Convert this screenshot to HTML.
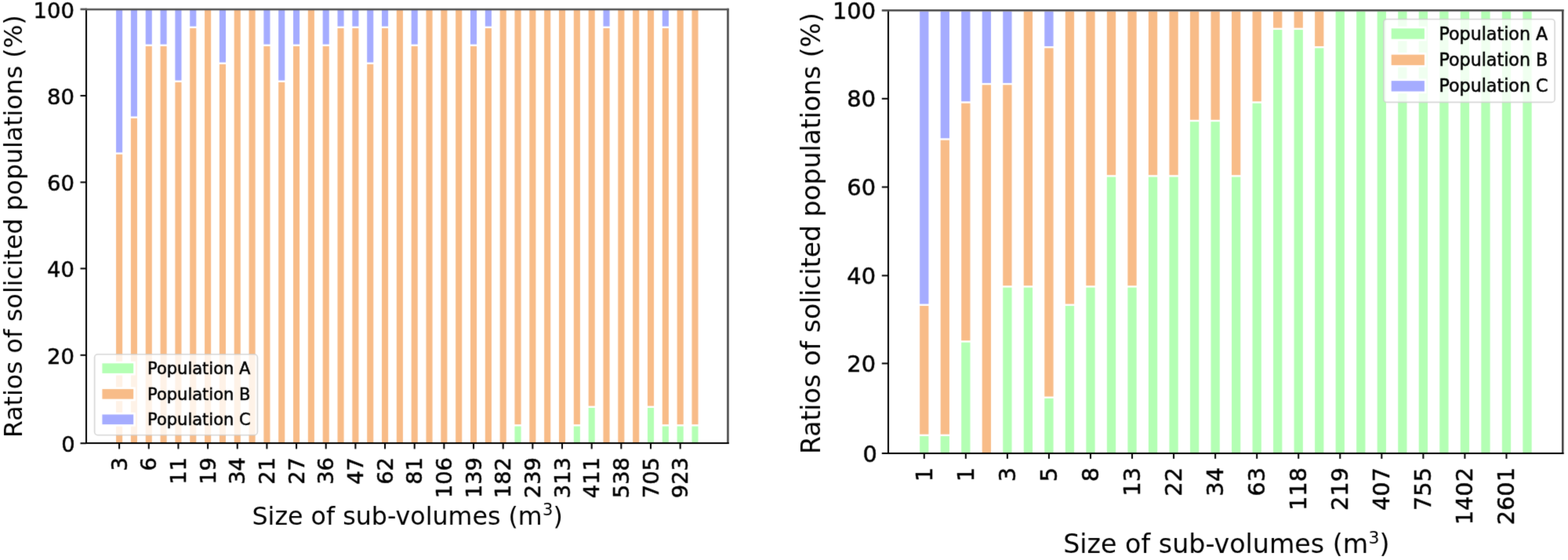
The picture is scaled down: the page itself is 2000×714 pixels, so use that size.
<!DOCTYPE html>
<html><head><meta charset="utf-8"><title>Ratios of solicited populations</title>
<style>html,body{margin:0;padding:0;background:#fff;} svg{display:block;} text{font-family:'DejaVu Sans', 'Liberation Sans', sans-serif;fill:#000;stroke:#000;stroke-width:0.5px;}</style>
</head><body>
<svg width="2000" height="714" viewBox="0 0 2000 714">
<defs><filter id="soft" x="0" y="0" width="2000" height="714" filterUnits="userSpaceOnUse" color-interpolation-filters="sRGB"><feConvolveMatrix order="3" kernelMatrix="0.01134 0.08382 0.01134 0.08382 0.61935 0.08382 0.01134 0.08382 0.01134" edgeMode="duplicate"/></filter></defs>
<rect width="2000" height="714" fill="#fff"/>
<g filter="url(#soft)">
<rect width="2000" height="714" fill="#fff"/>
<rect x="148.05" y="196.80" width="8.10" height="367.90" fill="#f8bc88"/>
<rect x="148.05" y="13.00" width="8.10" height="181.40" fill="#a5acff"/>
<rect x="166.88" y="150.84" width="8.10" height="413.86" fill="#f8bc88"/>
<rect x="166.88" y="13.00" width="8.10" height="135.44" fill="#a5acff"/>
<rect x="185.71" y="58.92" width="8.10" height="505.78" fill="#f8bc88"/>
<rect x="185.71" y="13.00" width="8.10" height="43.52" fill="#a5acff"/>
<rect x="204.54" y="58.92" width="8.10" height="505.78" fill="#f8bc88"/>
<rect x="204.54" y="13.00" width="8.10" height="43.52" fill="#a5acff"/>
<rect x="223.37" y="104.89" width="8.10" height="459.81" fill="#f8bc88"/>
<rect x="223.37" y="13.00" width="8.10" height="89.49" fill="#a5acff"/>
<rect x="242.20" y="35.99" width="8.10" height="528.71" fill="#f8bc88"/>
<rect x="242.20" y="13.00" width="8.10" height="20.59" fill="#a5acff"/>
<rect x="261.04" y="13.00" width="8.10" height="551.70" fill="#f8bc88"/>
<rect x="279.87" y="81.91" width="8.10" height="482.79" fill="#f8bc88"/>
<rect x="279.87" y="13.00" width="8.10" height="66.51" fill="#a5acff"/>
<rect x="298.70" y="13.00" width="8.10" height="551.70" fill="#f8bc88"/>
<rect x="317.53" y="13.00" width="8.10" height="551.70" fill="#f8bc88"/>
<rect x="336.36" y="58.92" width="8.10" height="505.78" fill="#f8bc88"/>
<rect x="336.36" y="13.00" width="8.10" height="43.52" fill="#a5acff"/>
<rect x="355.19" y="104.89" width="8.10" height="459.81" fill="#f8bc88"/>
<rect x="355.19" y="13.00" width="8.10" height="89.49" fill="#a5acff"/>
<rect x="374.02" y="58.92" width="8.10" height="505.78" fill="#f8bc88"/>
<rect x="374.02" y="13.00" width="8.10" height="43.52" fill="#a5acff"/>
<rect x="392.85" y="13.00" width="8.10" height="551.70" fill="#f8bc88"/>
<rect x="411.68" y="58.92" width="8.10" height="505.78" fill="#f8bc88"/>
<rect x="411.68" y="13.00" width="8.10" height="43.52" fill="#a5acff"/>
<rect x="430.51" y="35.99" width="8.10" height="528.71" fill="#f8bc88"/>
<rect x="430.51" y="13.00" width="8.10" height="20.59" fill="#a5acff"/>
<rect x="449.35" y="35.99" width="8.10" height="528.71" fill="#f8bc88"/>
<rect x="449.35" y="13.00" width="8.10" height="20.59" fill="#a5acff"/>
<rect x="468.18" y="81.91" width="8.10" height="482.79" fill="#f8bc88"/>
<rect x="468.18" y="13.00" width="8.10" height="66.51" fill="#a5acff"/>
<rect x="487.01" y="35.99" width="8.10" height="528.71" fill="#f8bc88"/>
<rect x="487.01" y="13.00" width="8.10" height="20.59" fill="#a5acff"/>
<rect x="505.84" y="13.00" width="8.10" height="551.70" fill="#f8bc88"/>
<rect x="524.67" y="58.92" width="8.10" height="505.78" fill="#f8bc88"/>
<rect x="524.67" y="13.00" width="8.10" height="43.52" fill="#a5acff"/>
<rect x="543.50" y="13.00" width="8.10" height="551.70" fill="#f8bc88"/>
<rect x="562.33" y="13.00" width="8.10" height="551.70" fill="#f8bc88"/>
<rect x="581.16" y="13.00" width="8.10" height="551.70" fill="#f8bc88"/>
<rect x="599.99" y="58.92" width="8.10" height="505.78" fill="#f8bc88"/>
<rect x="599.99" y="13.00" width="8.10" height="43.52" fill="#a5acff"/>
<rect x="618.83" y="35.99" width="8.10" height="528.71" fill="#f8bc88"/>
<rect x="618.83" y="13.00" width="8.10" height="20.59" fill="#a5acff"/>
<rect x="637.66" y="13.00" width="8.10" height="551.70" fill="#f8bc88"/>
<rect x="656.49" y="543.52" width="8.10" height="21.18" fill="#b4ffb4"/>
<rect x="656.49" y="13.00" width="8.10" height="528.12" fill="#f8bc88"/>
<rect x="675.32" y="13.00" width="8.10" height="551.70" fill="#f8bc88"/>
<rect x="694.15" y="13.00" width="8.10" height="551.70" fill="#f8bc88"/>
<rect x="712.98" y="13.00" width="8.10" height="551.70" fill="#f8bc88"/>
<rect x="731.81" y="543.52" width="8.10" height="21.18" fill="#b4ffb4"/>
<rect x="731.81" y="13.00" width="8.10" height="528.12" fill="#f8bc88"/>
<rect x="750.64" y="519.99" width="8.10" height="44.71" fill="#b4ffb4"/>
<rect x="750.64" y="13.00" width="8.10" height="504.59" fill="#f8bc88"/>
<rect x="769.47" y="35.99" width="8.10" height="528.71" fill="#f8bc88"/>
<rect x="769.47" y="13.00" width="8.10" height="20.59" fill="#a5acff"/>
<rect x="788.30" y="13.00" width="8.10" height="551.70" fill="#f8bc88"/>
<rect x="807.14" y="13.00" width="8.10" height="551.70" fill="#f8bc88"/>
<rect x="825.97" y="519.99" width="8.10" height="44.71" fill="#b4ffb4"/>
<rect x="825.97" y="13.00" width="8.10" height="504.59" fill="#f8bc88"/>
<rect x="844.80" y="543.52" width="8.10" height="21.18" fill="#b4ffb4"/>
<rect x="844.80" y="35.99" width="8.10" height="505.13" fill="#f8bc88"/>
<rect x="844.80" y="13.00" width="8.10" height="20.59" fill="#a5acff"/>
<rect x="863.63" y="543.52" width="8.10" height="21.18" fill="#b4ffb4"/>
<rect x="863.63" y="13.00" width="8.10" height="528.12" fill="#f8bc88"/>
<rect x="882.46" y="543.52" width="8.10" height="21.18" fill="#b4ffb4"/>
<rect x="882.46" y="13.00" width="8.10" height="528.12" fill="#f8bc88"/>
<rect x="120.60" y="451.80" width="207.80" height="102.90" rx="4" ry="4" fill="#fff" fill-opacity="0.8" stroke="#cccccc" stroke-opacity="0.8" stroke-width="1.6"/>
<rect x="127.80" y="460.70" width="45.00" height="17.80" fill="#fff"/>
<rect x="130.40" y="463.30" width="39.80" height="12.60" fill="#b4ffb4"/>
<text x="188.00" y="477.27" font-size="21.0">Population A</text>
<rect x="127.80" y="493.50" width="45.00" height="17.80" fill="#fff"/>
<rect x="130.40" y="496.10" width="39.80" height="12.60" fill="#f8bc88"/>
<text x="188.00" y="510.06" font-size="21.0">Population B</text>
<rect x="127.80" y="525.90" width="45.00" height="17.80" fill="#fff"/>
<rect x="130.40" y="528.50" width="39.80" height="12.60" fill="#a5acff"/>
<text x="188.00" y="542.46" font-size="21.0">Population C</text>
<line x1="110.0" y1="10.7" x2="110.0" y2="566.0" stroke="#000" stroke-width="2.0"/>
<line x1="928.45" y1="10.7" x2="928.45" y2="566.0" stroke="#4a4a4a" stroke-width="2.6"/>
<line x1="109.0" y1="565.0" x2="929.75" y2="565.0" stroke="#000" stroke-width="2.0"/>
<line x1="109.0" y1="12.0" x2="929.75" y2="12.0" stroke="#555555" stroke-width="2.6"/>
<line x1="102.50" y1="565.20" x2="109.70" y2="565.20" stroke="#000" stroke-width="2.0"/>
<text x="95.80" y="575.90" font-size="27.4" text-anchor="end">0</text>
<line x1="102.50" y1="452.80" x2="109.70" y2="452.80" stroke="#000" stroke-width="2.0"/>
<text x="94.90" y="463.50" font-size="27.4" text-anchor="end">20</text>
<line x1="102.50" y1="342.40" x2="109.70" y2="342.40" stroke="#000" stroke-width="2.0"/>
<text x="94.90" y="353.10" font-size="27.4" text-anchor="end">40</text>
<line x1="102.50" y1="232.40" x2="109.70" y2="232.40" stroke="#000" stroke-width="2.0"/>
<text x="94.90" y="243.10" font-size="27.4" text-anchor="end">60</text>
<line x1="102.50" y1="122.05" x2="109.70" y2="122.05" stroke="#000" stroke-width="2.0"/>
<text x="94.90" y="132.75" font-size="27.4" text-anchor="end">80</text>
<line x1="102.50" y1="11.80" x2="109.70" y2="11.80" stroke="#555555" stroke-width="2.6"/>
<text x="94.90" y="22.50" font-size="27.4" text-anchor="end">100</text>
<line x1="152.10" y1="565.20" x2="152.10" y2="572.40" stroke="#000" stroke-width="2.0"/>
<text transform="translate(161.70 583.00) rotate(-90)" font-size="27.4" text-anchor="end">3</text>
<line x1="189.76" y1="565.20" x2="189.76" y2="572.40" stroke="#000" stroke-width="2.0"/>
<text transform="translate(199.36 583.00) rotate(-90)" font-size="27.4" text-anchor="end">6</text>
<line x1="227.42" y1="565.20" x2="227.42" y2="572.40" stroke="#000" stroke-width="2.0"/>
<text transform="translate(237.02 583.00) rotate(-90)" font-size="27.4" text-anchor="end">11</text>
<line x1="265.09" y1="565.20" x2="265.09" y2="572.40" stroke="#000" stroke-width="2.0"/>
<text transform="translate(274.69 583.00) rotate(-90)" font-size="27.4" text-anchor="end">19</text>
<line x1="302.75" y1="565.20" x2="302.75" y2="572.40" stroke="#000" stroke-width="2.0"/>
<text transform="translate(312.35 583.00) rotate(-90)" font-size="27.4" text-anchor="end">34</text>
<line x1="340.41" y1="565.20" x2="340.41" y2="572.40" stroke="#000" stroke-width="2.0"/>
<text transform="translate(350.01 583.00) rotate(-90)" font-size="27.4" text-anchor="end">21</text>
<line x1="378.07" y1="565.20" x2="378.07" y2="572.40" stroke="#000" stroke-width="2.0"/>
<text transform="translate(387.67 583.00) rotate(-90)" font-size="27.4" text-anchor="end">27</text>
<line x1="415.73" y1="565.20" x2="415.73" y2="572.40" stroke="#000" stroke-width="2.0"/>
<text transform="translate(425.33 583.00) rotate(-90)" font-size="27.4" text-anchor="end">36</text>
<line x1="453.40" y1="565.20" x2="453.40" y2="572.40" stroke="#000" stroke-width="2.0"/>
<text transform="translate(463.00 583.00) rotate(-90)" font-size="27.4" text-anchor="end">47</text>
<line x1="491.06" y1="565.20" x2="491.06" y2="572.40" stroke="#000" stroke-width="2.0"/>
<text transform="translate(500.66 583.00) rotate(-90)" font-size="27.4" text-anchor="end">62</text>
<line x1="528.72" y1="565.20" x2="528.72" y2="572.40" stroke="#000" stroke-width="2.0"/>
<text transform="translate(538.32 583.00) rotate(-90)" font-size="27.4" text-anchor="end">81</text>
<line x1="566.38" y1="565.20" x2="566.38" y2="572.40" stroke="#000" stroke-width="2.0"/>
<text transform="translate(575.98 583.00) rotate(-90)" font-size="27.4" text-anchor="end">106</text>
<line x1="604.04" y1="565.20" x2="604.04" y2="572.40" stroke="#000" stroke-width="2.0"/>
<text transform="translate(613.64 583.00) rotate(-90)" font-size="27.4" text-anchor="end">139</text>
<line x1="641.71" y1="565.20" x2="641.71" y2="572.40" stroke="#000" stroke-width="2.0"/>
<text transform="translate(651.31 583.00) rotate(-90)" font-size="27.4" text-anchor="end">182</text>
<line x1="679.37" y1="565.20" x2="679.37" y2="572.40" stroke="#000" stroke-width="2.0"/>
<text transform="translate(688.97 583.00) rotate(-90)" font-size="27.4" text-anchor="end">239</text>
<line x1="717.03" y1="565.20" x2="717.03" y2="572.40" stroke="#000" stroke-width="2.0"/>
<text transform="translate(726.63 583.00) rotate(-90)" font-size="27.4" text-anchor="end">313</text>
<line x1="754.69" y1="565.20" x2="754.69" y2="572.40" stroke="#000" stroke-width="2.0"/>
<text transform="translate(764.29 583.00) rotate(-90)" font-size="27.4" text-anchor="end">411</text>
<line x1="792.35" y1="565.20" x2="792.35" y2="572.40" stroke="#000" stroke-width="2.0"/>
<text transform="translate(801.95 583.00) rotate(-90)" font-size="27.4" text-anchor="end">538</text>
<line x1="830.02" y1="565.20" x2="830.02" y2="572.40" stroke="#000" stroke-width="2.0"/>
<text transform="translate(839.62 583.00) rotate(-90)" font-size="27.4" text-anchor="end">705</text>
<line x1="867.68" y1="565.20" x2="867.68" y2="572.40" stroke="#000" stroke-width="2.0"/>
<text transform="translate(877.28 583.00) rotate(-90)" font-size="27.4" text-anchor="end">923</text>
<text transform="translate(27.70 558.00) rotate(-90)" font-size="31.6" style="stroke:none">Ratios of solicited populations (%)</text>
<text x="321.50" y="669.00" font-size="31.7" style="stroke:none">Size of sub-volumes (m<tspan font-size="20.92" dx="0.35" dy="-11.89">3</tspan><tspan dy="11.89">)</tspan></text>
<rect x="1173.15" y="556.10" width="11.30" height="21.70" fill="#b4ffb4"/>
<rect x="1173.15" y="389.95" width="11.30" height="163.75" fill="#f8bc88"/>
<rect x="1173.15" y="14.50" width="11.30" height="373.05" fill="#a5acff"/>
<rect x="1199.67" y="556.10" width="11.30" height="21.70" fill="#b4ffb4"/>
<rect x="1199.67" y="178.67" width="11.30" height="375.02" fill="#f8bc88"/>
<rect x="1199.67" y="14.50" width="11.30" height="161.77" fill="#a5acff"/>
<rect x="1226.20" y="436.60" width="11.30" height="141.20" fill="#b4ffb4"/>
<rect x="1226.20" y="131.68" width="11.30" height="302.52" fill="#f8bc88"/>
<rect x="1226.20" y="14.50" width="11.30" height="114.78" fill="#a5acff"/>
<rect x="1252.72" y="108.27" width="11.30" height="469.53" fill="#f8bc88"/>
<rect x="1252.72" y="14.50" width="11.30" height="91.37" fill="#a5acff"/>
<rect x="1279.25" y="366.60" width="11.30" height="211.20" fill="#b4ffb4"/>
<rect x="1279.25" y="108.27" width="11.30" height="255.93" fill="#f8bc88"/>
<rect x="1279.25" y="14.50" width="11.30" height="91.37" fill="#a5acff"/>
<rect x="1305.77" y="366.60" width="11.30" height="211.20" fill="#b4ffb4"/>
<rect x="1305.77" y="14.50" width="11.30" height="349.70" fill="#f8bc88"/>
<rect x="1332.29" y="507.95" width="11.30" height="69.85" fill="#b4ffb4"/>
<rect x="1332.29" y="61.36" width="11.30" height="444.19" fill="#f8bc88"/>
<rect x="1332.29" y="14.50" width="11.30" height="44.46" fill="#a5acff"/>
<rect x="1358.82" y="389.95" width="11.30" height="187.85" fill="#b4ffb4"/>
<rect x="1358.82" y="14.50" width="11.30" height="373.05" fill="#f8bc88"/>
<rect x="1385.34" y="366.60" width="11.30" height="211.20" fill="#b4ffb4"/>
<rect x="1385.34" y="14.50" width="11.30" height="349.70" fill="#f8bc88"/>
<rect x="1411.87" y="225.61" width="11.30" height="352.19" fill="#b4ffb4"/>
<rect x="1411.87" y="14.50" width="11.30" height="208.71" fill="#f8bc88"/>
<rect x="1438.39" y="366.60" width="11.30" height="211.20" fill="#b4ffb4"/>
<rect x="1438.39" y="14.50" width="11.30" height="349.70" fill="#f8bc88"/>
<rect x="1464.91" y="225.61" width="11.30" height="352.19" fill="#b4ffb4"/>
<rect x="1464.91" y="14.50" width="11.30" height="208.71" fill="#f8bc88"/>
<rect x="1491.44" y="225.61" width="11.30" height="352.19" fill="#b4ffb4"/>
<rect x="1491.44" y="14.50" width="11.30" height="208.71" fill="#f8bc88"/>
<rect x="1517.96" y="155.17" width="11.30" height="422.62" fill="#b4ffb4"/>
<rect x="1517.96" y="14.50" width="11.30" height="138.28" fill="#f8bc88"/>
<rect x="1544.49" y="155.17" width="11.30" height="422.62" fill="#b4ffb4"/>
<rect x="1544.49" y="14.50" width="11.30" height="138.28" fill="#f8bc88"/>
<rect x="1571.01" y="225.61" width="11.30" height="352.19" fill="#b4ffb4"/>
<rect x="1571.01" y="14.50" width="11.30" height="208.71" fill="#f8bc88"/>
<rect x="1597.53" y="131.68" width="11.30" height="446.12" fill="#b4ffb4"/>
<rect x="1597.53" y="14.50" width="11.30" height="114.78" fill="#f8bc88"/>
<rect x="1624.06" y="37.96" width="11.30" height="539.84" fill="#b4ffb4"/>
<rect x="1624.06" y="14.50" width="11.30" height="21.06" fill="#f8bc88"/>
<rect x="1650.58" y="37.96" width="11.30" height="539.84" fill="#b4ffb4"/>
<rect x="1650.58" y="14.50" width="11.30" height="21.06" fill="#f8bc88"/>
<rect x="1677.11" y="61.36" width="11.30" height="516.44" fill="#b4ffb4"/>
<rect x="1677.11" y="14.50" width="11.30" height="44.46" fill="#f8bc88"/>
<rect x="1703.63" y="14.50" width="11.30" height="563.30" fill="#b4ffb4"/>
<rect x="1730.15" y="14.50" width="11.30" height="563.30" fill="#b4ffb4"/>
<rect x="1756.68" y="14.50" width="11.30" height="563.30" fill="#b4ffb4"/>
<rect x="1783.20" y="14.50" width="11.30" height="563.30" fill="#b4ffb4"/>
<rect x="1809.73" y="14.50" width="11.30" height="563.30" fill="#b4ffb4"/>
<rect x="1836.25" y="14.50" width="11.30" height="563.30" fill="#b4ffb4"/>
<rect x="1862.77" y="14.50" width="11.30" height="563.30" fill="#b4ffb4"/>
<rect x="1889.30" y="14.50" width="11.30" height="563.30" fill="#b4ffb4"/>
<rect x="1915.82" y="14.50" width="11.30" height="563.30" fill="#b4ffb4"/>
<rect x="1942.35" y="14.50" width="11.30" height="563.30" fill="#b4ffb4"/>
<rect x="1764.90" y="24.50" width="218.20" height="105.90" rx="4" ry="4" fill="#fff" fill-opacity="0.8" stroke="#cccccc" stroke-opacity="0.8" stroke-width="1.6"/>
<rect x="1772.10" y="33.70" width="47.40" height="18.60" fill="#fff"/>
<rect x="1774.70" y="36.30" width="42.20" height="13.40" fill="#b4ffb4"/>
<text x="1835.40" y="50.50" font-size="22.2">Population A</text>
<rect x="1772.10" y="67.10" width="47.40" height="18.60" fill="#fff"/>
<rect x="1774.70" y="69.70" width="42.20" height="13.40" fill="#f8bc88"/>
<text x="1835.40" y="83.90" font-size="22.2">Population B</text>
<rect x="1772.10" y="100.50" width="47.40" height="18.60" fill="#fff"/>
<rect x="1774.70" y="103.10" width="42.20" height="13.40" fill="#a5acff"/>
<text x="1835.40" y="117.30" font-size="22.2">Population C</text>
<line x1="1133.0" y1="12.0" x2="1133.0" y2="579.0" stroke="#000" stroke-width="2.0"/>
<line x1="1993.3" y1="12.0" x2="1993.3" y2="579.0" stroke="#3c3c3c" stroke-width="2.5"/>
<line x1="1132.0" y1="578.0" x2="1994.55" y2="578.0" stroke="#000" stroke-width="2.0"/>
<line x1="1132.0" y1="13.3" x2="1994.55" y2="13.3" stroke="#4a4a4a" stroke-width="2.6"/>
<line x1="1124.80" y1="578.00" x2="1133.00" y2="578.00" stroke="#000" stroke-width="2.0"/>
<text x="1118.80" y="588.50" font-size="28.8" text-anchor="end">0</text>
<line x1="1124.80" y1="463.40" x2="1133.00" y2="463.40" stroke="#000" stroke-width="2.0"/>
<text x="1117.00" y="473.90" font-size="28.8" text-anchor="end">20</text>
<line x1="1124.80" y1="351.40" x2="1133.00" y2="351.40" stroke="#000" stroke-width="2.0"/>
<text x="1117.00" y="361.90" font-size="28.8" text-anchor="end">40</text>
<line x1="1124.80" y1="238.50" x2="1133.00" y2="238.50" stroke="#000" stroke-width="2.0"/>
<text x="1117.00" y="249.00" font-size="28.8" text-anchor="end">60</text>
<line x1="1124.80" y1="125.80" x2="1133.00" y2="125.80" stroke="#000" stroke-width="2.0"/>
<text x="1117.00" y="136.30" font-size="28.8" text-anchor="end">80</text>
<line x1="1124.80" y1="13.30" x2="1133.00" y2="13.30" stroke="#4a4a4a" stroke-width="2.6"/>
<text x="1117.00" y="23.80" font-size="28.8" text-anchor="end">100</text>
<line x1="1178.80" y1="578.00" x2="1178.80" y2="584.90" stroke="#000" stroke-width="2.0"/>
<text transform="translate(1188.80 596.00) rotate(-90)" font-size="28.8" text-anchor="end">1</text>
<line x1="1231.85" y1="578.00" x2="1231.85" y2="584.90" stroke="#000" stroke-width="2.0"/>
<text transform="translate(1241.85 596.00) rotate(-90)" font-size="28.8" text-anchor="end">1</text>
<line x1="1284.90" y1="578.00" x2="1284.90" y2="584.90" stroke="#000" stroke-width="2.0"/>
<text transform="translate(1294.90 596.00) rotate(-90)" font-size="28.8" text-anchor="end">3</text>
<line x1="1337.94" y1="578.00" x2="1337.94" y2="584.90" stroke="#000" stroke-width="2.0"/>
<text transform="translate(1347.94 596.00) rotate(-90)" font-size="28.8" text-anchor="end">5</text>
<line x1="1390.99" y1="578.00" x2="1390.99" y2="584.90" stroke="#000" stroke-width="2.0"/>
<text transform="translate(1400.99 596.00) rotate(-90)" font-size="28.8" text-anchor="end">8</text>
<line x1="1444.04" y1="578.00" x2="1444.04" y2="584.90" stroke="#000" stroke-width="2.0"/>
<text transform="translate(1454.04 596.00) rotate(-90)" font-size="28.8" text-anchor="end">13</text>
<line x1="1497.09" y1="578.00" x2="1497.09" y2="584.90" stroke="#000" stroke-width="2.0"/>
<text transform="translate(1507.09 596.00) rotate(-90)" font-size="28.8" text-anchor="end">22</text>
<line x1="1550.14" y1="578.00" x2="1550.14" y2="584.90" stroke="#000" stroke-width="2.0"/>
<text transform="translate(1560.14 596.00) rotate(-90)" font-size="28.8" text-anchor="end">34</text>
<line x1="1603.18" y1="578.00" x2="1603.18" y2="584.90" stroke="#000" stroke-width="2.0"/>
<text transform="translate(1613.18 596.00) rotate(-90)" font-size="28.8" text-anchor="end">63</text>
<line x1="1656.23" y1="578.00" x2="1656.23" y2="584.90" stroke="#000" stroke-width="2.0"/>
<text transform="translate(1666.23 596.00) rotate(-90)" font-size="28.8" text-anchor="end">118</text>
<line x1="1709.28" y1="578.00" x2="1709.28" y2="584.90" stroke="#000" stroke-width="2.0"/>
<text transform="translate(1719.28 596.00) rotate(-90)" font-size="28.8" text-anchor="end">219</text>
<line x1="1762.33" y1="578.00" x2="1762.33" y2="584.90" stroke="#000" stroke-width="2.0"/>
<text transform="translate(1772.33 596.00) rotate(-90)" font-size="28.8" text-anchor="end">407</text>
<line x1="1815.38" y1="578.00" x2="1815.38" y2="584.90" stroke="#000" stroke-width="2.0"/>
<text transform="translate(1825.38 596.00) rotate(-90)" font-size="28.8" text-anchor="end">755</text>
<line x1="1868.42" y1="578.00" x2="1868.42" y2="584.90" stroke="#000" stroke-width="2.0"/>
<text transform="translate(1878.42 596.00) rotate(-90)" font-size="28.8" text-anchor="end">1402</text>
<line x1="1921.47" y1="578.00" x2="1921.47" y2="584.90" stroke="#000" stroke-width="2.0"/>
<text transform="translate(1931.47 596.00) rotate(-90)" font-size="28.8" text-anchor="end">2601</text>
<text transform="translate(1046.30 579.00) rotate(-90)" font-size="33.0" style="stroke:none">Ratios of solicited populations (%)</text>
<text x="1356.20" y="705.40" font-size="33.3" style="stroke:none">Size of sub-volumes (m<tspan font-size="21.98" dx="0.37" dy="-12.49">3</tspan><tspan dy="12.49">)</tspan></text>
</g>
</svg>
</body></html>
